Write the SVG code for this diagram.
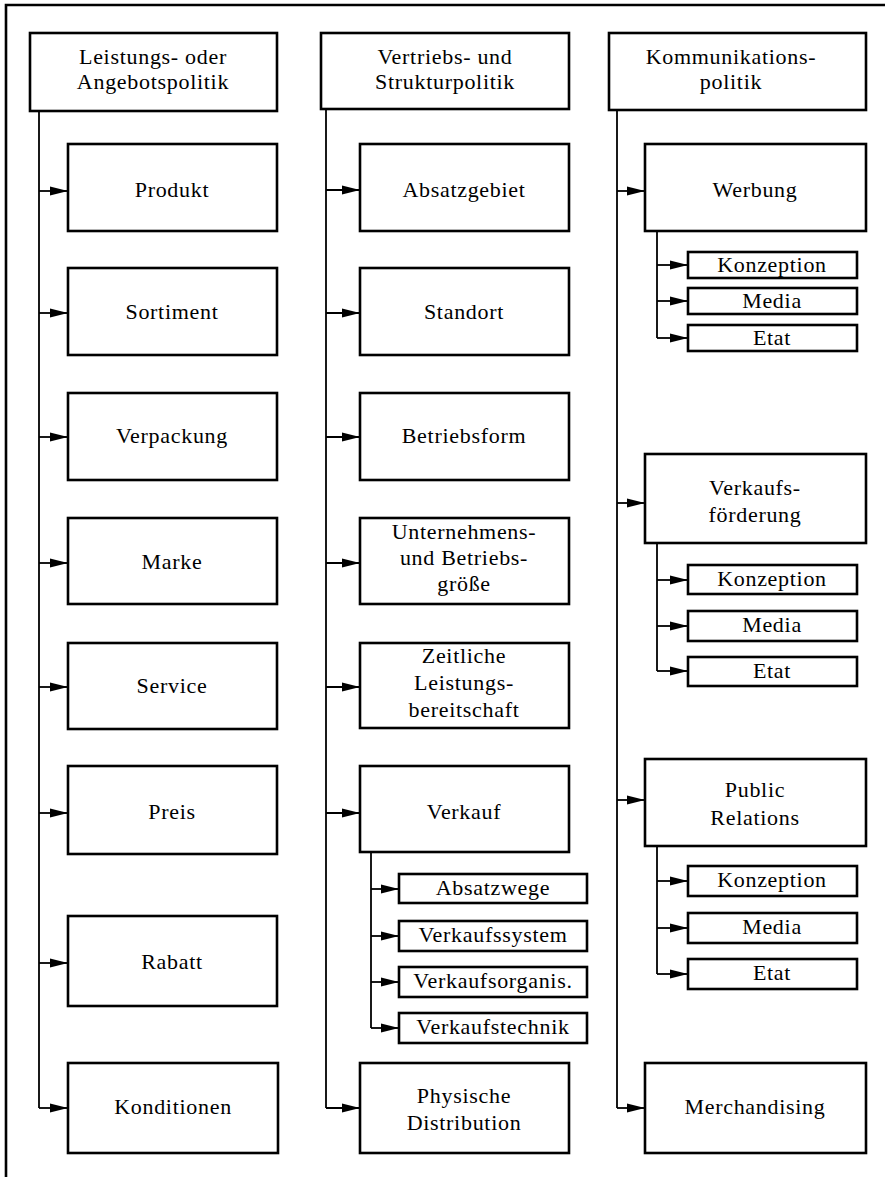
<svg xmlns="http://www.w3.org/2000/svg" width="885" height="1177" viewBox="0 0 885 1177">
<defs>
<style>
.box{fill:#fff;stroke:#000;stroke-width:2.6}
.t{font-family:'Liberation Serif','Times New Roman',serif;font-size:22px;letter-spacing:0.7px;fill:#000;text-anchor:middle}
.ln{fill:none;stroke:#000;stroke-width:1.8}
.ar{fill:none;stroke:#000;stroke-width:1.8;marker-end:url(#ah)}
.frame{fill:none;stroke:#000;stroke-width:2.6}
</style>
<marker id="ah" viewBox="0 0 18 11" refX="18" refY="5.5" markerWidth="18" markerHeight="11" markerUnits="userSpaceOnUse" orient="auto">
<path d="M0,1 L18,5.5 L0,10 z" fill="#000"/>
</marker>
</defs>
<rect width="885" height="1177" fill="#fff"/>
<path class="frame" d="M6,1177 V5 H885"/>

<g id="connectors">
<path class="ln" d="M39,111 V1108"/>
<path class="ar" d="M39,191 H68"/>
<path class="ar" d="M39,313 H68"/>
<path class="ar" d="M39,437 H68"/>
<path class="ar" d="M39,563 H68"/>
<path class="ar" d="M39,687 H68"/>
<path class="ar" d="M39,813 H68"/>
<path class="ar" d="M39,963 H68"/>
<path class="ar" d="M39,1108 H68"/>
<path class="ln" d="M326,109 V1108"/>
<path class="ar" d="M326,190 H360"/>
<path class="ar" d="M326,313 H360"/>
<path class="ar" d="M326,437 H360"/>
<path class="ar" d="M326,563 H360"/>
<path class="ar" d="M326,687 H360"/>
<path class="ar" d="M326,813 H360"/>
<path class="ar" d="M326,1108 H360"/>
<path class="ln" d="M371,852 V1028"/>
<path class="ar" d="M371,889 H399"/>
<path class="ar" d="M371,936 H399"/>
<path class="ar" d="M371,982 H399"/>
<path class="ar" d="M371,1028 H399"/>
<path class="ln" d="M617,110 V1108"/>
<path class="ar" d="M617,191 H645"/>
<path class="ar" d="M617,503 H645"/>
<path class="ar" d="M617,800 H645"/>
<path class="ar" d="M617,1108 H645"/>
<path class="ln" d="M657,231 V338"/>
<path class="ar" d="M657,265 H688"/>
<path class="ar" d="M657,301 H688"/>
<path class="ar" d="M657,338 H688"/>
<path class="ln" d="M657,543 V671"/>
<path class="ar" d="M657,580 H688"/>
<path class="ar" d="M657,626 H688"/>
<path class="ar" d="M657,671 H688"/>
<path class="ln" d="M657,846 V974"/>
<path class="ar" d="M657,881 H688"/>
<path class="ar" d="M657,928 H688"/>
<path class="ar" d="M657,974 H688"/>
</g>

<g id="h-leistung"><rect class="box" x="30" y="33" width="247" height="78"/>
<text class="t" x="153" y="64">Leistungs- oder</text><text class="t" x="153" y="89">Angebotspolitik</text></g>
<g id="h-vertrieb"><rect class="box" x="321" y="33" width="248" height="76"/>
<text class="t" x="445" y="64">Vertriebs- und</text><text class="t" x="445" y="89">Strukturpolitik</text></g>
<g id="h-komm"><rect class="box" x="609" y="33" width="257" height="77"/>
<text class="t" x="731" y="64">Kommunikations-</text><text class="t" x="731" y="89">politik</text></g>

<g id="produkt"><rect class="box" x="68" y="144" width="209" height="87"/><text class="t" x="172" y="197">Produkt</text></g>
<g id="sortiment"><rect class="box" x="68" y="268" width="209" height="87"/><text class="t" x="172" y="319">Sortiment</text></g>
<g id="verpackung"><rect class="box" x="68" y="393" width="209" height="87"/><text class="t" x="172" y="443">Verpackung</text></g>
<g id="marke"><rect class="box" x="68" y="518" width="209" height="86"/><text class="t" x="172" y="569">Marke</text></g>
<g id="service"><rect class="box" x="68" y="643" width="209" height="86"/><text class="t" x="172" y="693">Service</text></g>
<g id="preis"><rect class="box" x="68" y="766" width="209" height="88"/><text class="t" x="172" y="819">Preis</text></g>
<g id="rabatt"><rect class="box" x="68" y="916" width="209" height="90"/><text class="t" x="172" y="969">Rabatt</text></g>
<g id="konditionen"><rect class="box" x="68" y="1063" width="210" height="90"/><text class="t" x="173" y="1114">Konditionen</text></g>

<g id="absatzgebiet"><rect class="box" x="360" y="144" width="209" height="87"/><text class="t" x="464" y="197">Absatzgebiet</text></g>
<g id="standort"><rect class="box" x="360" y="268" width="209" height="87"/><text class="t" x="464" y="319">Standort</text></g>
<g id="betriebsform"><rect class="box" x="360" y="393" width="209" height="87"/><text class="t" x="464" y="443">Betriebsform</text></g>
<g id="unternehmen"><rect class="box" x="360" y="518" width="209" height="86"/>
<text class="t" x="464" y="539">Unternehmens-</text><text class="t" x="464" y="565">und Betriebs-</text><text class="t" x="464" y="591">größe</text></g>
<g id="zeitliche"><rect class="box" x="360" y="643" width="209" height="85"/>
<text class="t" x="464" y="663">Zeitliche</text><text class="t" x="464" y="690">Leistungs-</text><text class="t" x="464" y="717">bereitschaft</text></g>
<g id="verkauf"><rect class="box" x="360" y="766" width="209" height="86"/><text class="t" x="464" y="819">Verkauf</text></g>
<g id="absatzwege"><rect class="box" x="399" y="874" width="188" height="29"/><text class="t" x="493" y="895">Absatzwege</text></g>
<g id="verkaufssystem"><rect class="box" x="399" y="921" width="188" height="30"/><text class="t" x="493" y="942">Verkaufssystem</text></g>
<g id="verkaufsorganis"><rect class="box" x="399" y="967" width="188" height="30"/><text class="t" x="493" y="988">Verkaufsorganis.</text></g>
<g id="verkaufstechnik"><rect class="box" x="399" y="1013" width="188" height="30"/><text class="t" x="493" y="1034">Verkaufstechnik</text></g>
<g id="physische"><rect class="box" x="360" y="1063" width="209" height="90"/>
<text class="t" x="464" y="1103">Physische</text><text class="t" x="464" y="1130">Distribution</text></g>

<g id="werbung"><rect class="box" x="645" y="144" width="221" height="87"/><text class="t" x="755" y="197">Werbung</text></g>
<g id="w-konzeption"><rect class="box" x="688" y="252" width="169" height="26"/><text class="t" x="772" y="272">Konzeption</text></g>
<g id="w-media"><rect class="box" x="688" y="288" width="169" height="26"/><text class="t" x="772" y="308">Media</text></g>
<g id="w-etat"><rect class="box" x="688" y="325" width="169" height="26"/><text class="t" x="772" y="345">Etat</text></g>
<g id="verkaufsfoerderung"><rect class="box" x="645" y="454" width="221" height="89"/>
<text class="t" x="755" y="495">Verkaufs-</text><text class="t" x="755" y="522">förderung</text></g>
<g id="vf-konzeption"><rect class="box" x="688" y="565" width="169" height="29"/><text class="t" x="772" y="586">Konzeption</text></g>
<g id="vf-media"><rect class="box" x="688" y="611" width="169" height="30"/><text class="t" x="772" y="632">Media</text></g>
<g id="vf-etat"><rect class="box" x="688" y="657" width="169" height="29"/><text class="t" x="772" y="678">Etat</text></g>
<g id="public-relations"><rect class="box" x="645" y="759" width="221" height="87"/>
<text class="t" x="755" y="797">Public</text><text class="t" x="755" y="825">Relations</text></g>
<g id="pr-konzeption"><rect class="box" x="688" y="866" width="169" height="30"/><text class="t" x="772" y="887">Konzeption</text></g>
<g id="pr-media"><rect class="box" x="688" y="913" width="169" height="30"/><text class="t" x="772" y="934">Media</text></g>
<g id="pr-etat"><rect class="box" x="688" y="959" width="169" height="30"/><text class="t" x="772" y="980">Etat</text></g>
<g id="merchandising"><rect class="box" x="645" y="1063" width="221" height="90"/><text class="t" x="755" y="1114">Merchandising</text></g>
</svg>
